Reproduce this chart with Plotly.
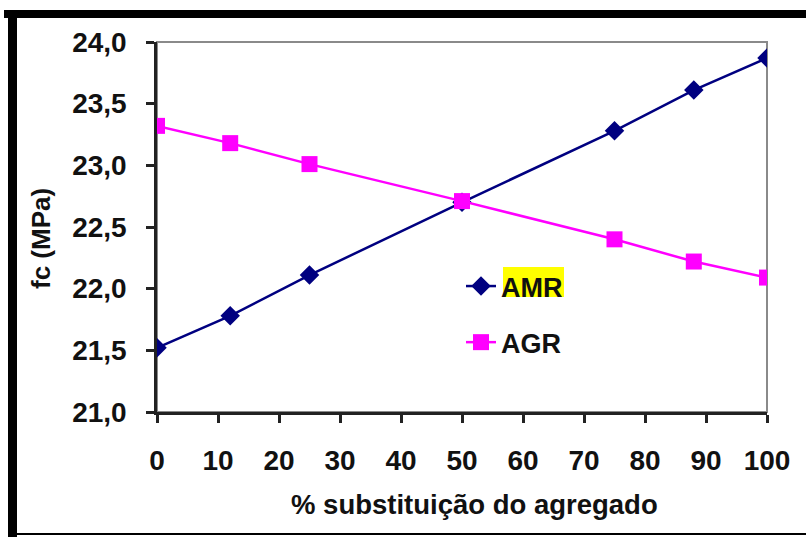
import plotly.graph_objects as go

# Compressive strength vs. aggregate replacement
substituicao = [0, 12, 25, 50, 75, 88, 100]
amr = [21.52, 21.78, 22.11, 22.70, 23.28, 23.61, 23.87]
agr = [23.32, 23.18, 23.01, 22.71, 22.40, 22.22, 22.09]

x_ticks = [0, 10, 20, 30, 40, 50, 60, 70, 80, 90, 100]
y_ticks = [21.0, 21.5, 22.0, 22.5, 23.0, 23.5, 24.0]

FONT = "Liberation Sans"
INK = "#111111"

fig = go.Figure()
fig.add_trace(go.Scatter(
    x=substituicao, y=amr, name="AMR", mode="lines+markers",
    line=dict(color="#000080", width=2.5),
    marker=dict(symbol="diamond", size=15, color="#000080"),
    legendgroup="a",
))
fig.add_trace(go.Scatter(
    x=substituicao, y=agr, name="AGR", mode="lines+markers",
    line=dict(color="#ff00ff", width=2.5),
    marker=dict(symbol="square", size=16, color="#ff00ff"),
    legendgroup="b",
))

W, H = 806, 537
L, R, T, B = 157, 39, 42, 125
pw, ph = W - L - R, H - T - B


def px_x(px):
    return (px - L) / pw


def px_y(py):
    return (H - B - py) / ph


shapes = [
    # grey plot-area frame (top and right remain visible)
    dict(type="rect", xref="paper", yref="paper", x0=0, x1=1, y0=0, y1=1,
         line=dict(color="#8a8a8a", width=2), layer="below"),
    # outer black frame
    dict(type="line", xref="paper", yref="paper",
         x0=px_x(4), x1=px_x(820), y0=px_y(14), y1=px_y(14),
         line=dict(color="black", width=8)),
    dict(type="line", xref="paper", yref="paper",
         x0=px_x(12.5), x1=px_x(12.5), y0=px_y(10), y1=px_y(537),
         line=dict(color="black", width=9)),
    dict(type="line", xref="paper", yref="paper",
         x0=px_x(8), x1=px_x(820), y0=px_y(534), y1=px_y(534),
         line=dict(color="black", width=2)),
    # highlight behind the AMR legend label
    dict(type="rect", xref="paper", yref="paper",
         x0=px_x(503), x1=px_x(564), y0=px_y(297), y1=px_y(267),
         fillcolor="#ffff00", line=dict(width=0), layer="above"),
]

fig.update_layout(
    width=W, height=H,
    margin=dict(l=L, r=R, t=T, b=B),
    paper_bgcolor="white", plot_bgcolor="white",
    separators=",.",
    font=dict(family=FONT, size=28, color=INK, weight="bold"),
    showlegend=True,
    legend=dict(
        x=px_x(461), y=px_y(262), xanchor="left", yanchor="top",
        bgcolor="rgba(0,0,0,0)", borderwidth=0,
        traceorder="grouped", tracegroupgap=18,
        font=dict(family=FONT, size=27, color=INK, weight="bold"),
    ),
    shapes=shapes,
    annotations=[
        dict(text="% substituição do agregado", xref="paper", yref="paper",
             x=px_x(474), y=px_y(504), xanchor="center", yanchor="middle",
             showarrow=False,
             font=dict(family=FONT, size=27.5, color=INK, weight="bold")),
        dict(text="fc (MPa)", xref="paper", yref="paper",
             x=px_x(41), y=px_y(239), xanchor="center", yanchor="middle",
             showarrow=False, textangle=-90,
             font=dict(family=FONT, size=26, color=INK, weight="bold")),
    ],
)

fig.update_xaxes(
    range=[0, 100], tickvals=x_ticks, ticktext=[str(v) for v in x_ticks],
    showgrid=False, zeroline=False,
    showline=True, linecolor="#222222", linewidth=2.5,
    ticks="outside", ticklen=8, tickwidth=2.5, tickcolor="#222222",
    ticklabelstandoff=14,
)
fig.update_yaxes(
    range=[21, 24], tickvals=y_ticks,
    ticktext=[f"{v:.1f}".replace(".", ",") for v in y_ticks],
    showgrid=False, zeroline=False,
    showline=True, linecolor="#222222", linewidth=2.5,
    ticks="outside", ticklen=8, tickwidth=2.5, tickcolor="#222222",
    ticklabelstandoff=14,
)

fig.write_html("out.html")
